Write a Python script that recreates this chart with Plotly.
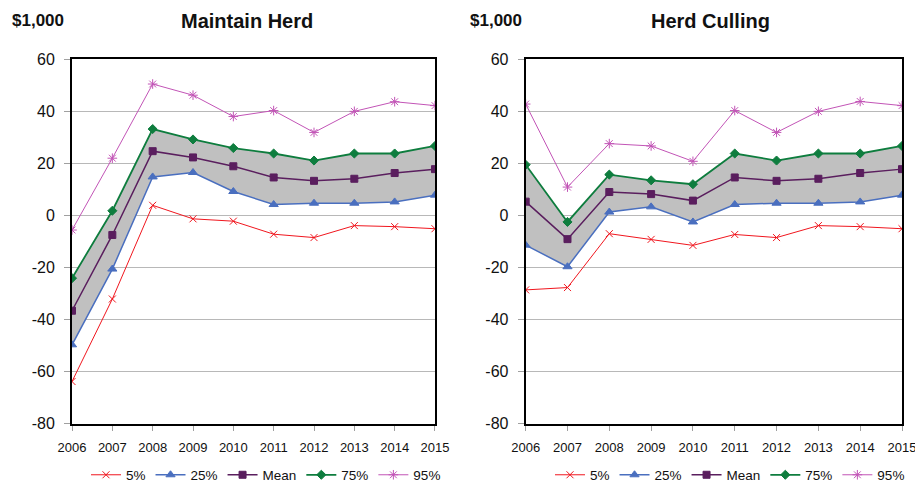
import plotly.graph_objects as go

years = [2006, 2007, 2008, 2009, 2010, 2011, 2012, 2013, 2014, 2015]

# Maintain Herd
mh_p5 = [-63.8, -32.1, 3.9, -1.3, -2.2, -7.2, -8.5, -3.9, -4.3, -5.1]
mh_p25 = [-49.7, -20.6, 14.8, 16.5, 9.2, 4.2, 4.7, 4.7, 5.2, 7.8]
mh_mean = [-36.6, -7.5, 24.7, 22.3, 18.9, 14.6, 13.3, 14.1, 16.3, 17.8]
mh_p75 = [-24.1, 1.8, 33.2, 29.2, 25.9, 23.8, 21.1, 23.8, 23.8, 26.7]
mh_p95 = [-5.6, 22.0, 50.5, 46.2, 38.0, 40.3, 31.9, 40.0, 43.7, 42.2]

# Herd Culling
hc_p5 = [-28.6, -27.7, -7.0, -9.2, -11.5, -7.3, -8.5, -3.9, -4.3, -5.1]
hc_p25 = [-11.4, -19.7, 1.3, 3.3, -2.5, 4.2, 4.7, 4.7, 5.2, 7.8]
hc_mean = [5.3, -9.1, 9.0, 8.2, 5.7, 14.6, 13.3, 14.1, 16.3, 17.8]
hc_p75 = [19.5, -2.5, 15.7, 13.5, 12.0, 23.8, 21.1, 23.8, 23.8, 26.7]
hc_p95 = [42.8, 10.9, 27.6, 26.7, 20.8, 40.3, 31.9, 40.0, 43.8, 42.2]

series_names = ["5%", "25%", "Mean", "75%", "95%"]
y_ticks = [-80, -60, -40, -20, 0, 20, 40, 60]
y_ticklabels = [str(v) for v in y_ticks]
x_ticklabels = [str(v) for v in years]

styles = {
    "5%": dict(color="#F0161E", symbol="x-thin-open", size=7, width=1.0),
    "25%": dict(color="#4A6FBF", symbol="triangle-up", size=8, width=1.5),
    "Mean": dict(color="#5A1E5E", symbol="square", size=7, width=1.5),
    "75%": dict(color="#0E7D3E", symbol="diamond", size=7, width=1.8),
    "95%": dict(color="#C254B6", symbol="asterisk-open", size=8, width=1.0),
}

FONT = "Liberation Sans, Arial, sans-serif"
fig = go.Figure()

panels = [
    ("x", "y", "legend", [mh_p5, mh_p25, mh_mean, mh_p75, mh_p95]),
    ("x2", "y2", "legend2", [hc_p5, hc_p25, hc_mean, hc_p75, hc_p95]),
]

for xa, ya, lg, data in panels:
    p25, p75 = data[1], data[3]
    fig.add_trace(go.Scatter(
        x=years + years[::-1], y=p25 + p75[::-1],
        fill="toself", fillcolor="#C0C0C0", line=dict(width=0),
        mode="lines", hoverinfo="skip", showlegend=False,
        xaxis=xa, yaxis=ya))
    for name, vals in zip(series_names, data):
        s = styles[name]
        fig.add_trace(go.Scatter(
            x=years, y=vals, name=name, mode="lines+markers",
            line=dict(color=s["color"], width=s["width"]),
            marker=dict(symbol=s["symbol"], size=s["size"], color=s["color"],
                        line=dict(color=s["color"], width=1)),
            xaxis=xa, yaxis=ya, legend=lg))

axis_common = dict(showline=True, linecolor="black", linewidth=2, mirror=True,
                   zeroline=False, automargin=False)
xcommon = dict(axis_common, range=[2006, 2015], tickvals=years,
               ticktext=x_ticklabels, showgrid=False,
               ticks="outside", ticklen=5, tickcolor="#A0A0A0",
               ticklabelstandoff=6, ticklabeloverflow="allow",
               tickfont=dict(family=FONT, size=13, color="#111"))
ycommon = dict(axis_common, range=[-80, 60], tickvals=y_ticks,
               ticktext=y_ticklabels, showgrid=True,
               gridcolor="#B8B8B8", gridwidth=1,
               ticks="outside", ticklen=6, tickcolor="#A0A0A0",
               ticklabelstandoff=6,
               tickfont=dict(family=FONT, size=16, color="#111"))

legend_common = dict(orientation="h", yanchor="middle", y=(482 - 475) / 482,
                     xanchor="left",
                     font=dict(family=FONT, size=13.5, color="#111"),
                     itemwidth=30, tracegroupgap=0, bgcolor="rgba(0,0,0,0)")

fig.update_layout(
    width=915, height=482,
    margin=dict(l=0, r=0, t=0, b=0, autoexpand=False),
    paper_bgcolor="white", plot_bgcolor="white",
    xaxis=dict(xcommon, domain=[0.0787, 0.4754], anchor="y"),
    yaxis=dict(ycommon, domain=[0.121, 0.877], anchor="x"),
    xaxis2=dict(xcommon, domain=[0.5745, 0.9858], anchor="y2"),
    yaxis2=dict(ycommon, domain=[0.121, 0.877], anchor="x2"),
    legend=dict(legend_common, x=86 / 915),
    legend2=dict(legend_common, x=550 / 915),
    showlegend=True,
)

annots = [
    dict(text="<b>$1,000</b>", x=10, y=21, size=17),
    dict(text="<b>Maintain Herd</b>", x=247, y=21, size=20, center=True),
    dict(text="<b>$1,000</b>", x=468, y=21, size=17),
    dict(text="<b>Herd Culling</b>", x=710, y=21, size=20, center=True),
]
for a in annots:
    fig.add_annotation(
        text=a["text"], xref="paper", yref="paper",
        x=a["x"] / 915, y=1 - a["y"] / 482,
        xanchor="center" if a.get("center") else "left", yanchor="middle",
        showarrow=False, font=dict(family=FONT, size=a["size"], color="#111"))

fig.write_html("out.html",
               config={"displayModeBar": False},
               post_script="document.body.style.margin='0';document.body.style.overflow='hidden';")
